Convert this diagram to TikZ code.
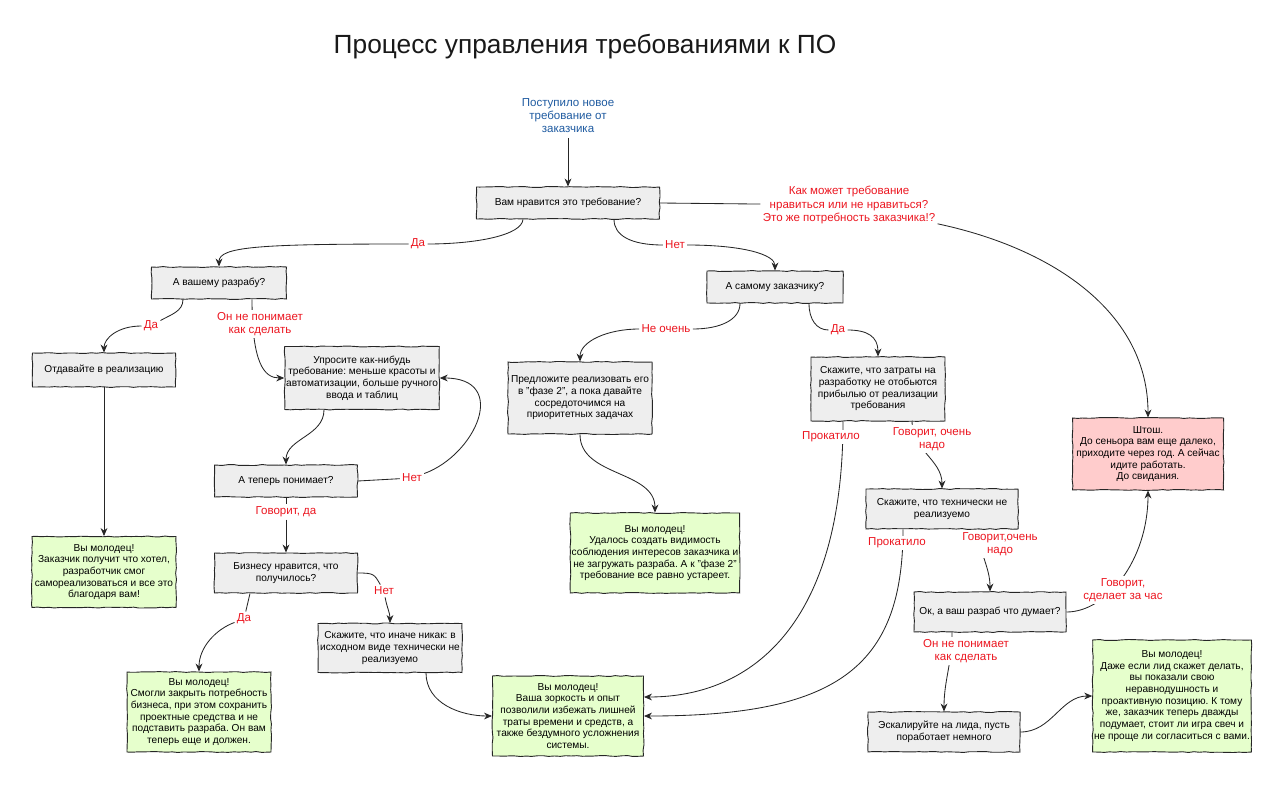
\documentclass[tikz,border=0pt]{standalone}
\usepackage{fontspec}
\setmainfont{Liberation Sans}
\usepackage{tikz}
\usetikzlibrary{arrows.meta}
\usetikzlibrary{positioning,decorations.pathmorphing}
\definecolor{qgray}{RGB}{238,238,238}
\definecolor{okgreen}{RGB}{230,255,204}
\definecolor{nopink}{RGB}{255,204,204}
\definecolor{lblred}{RGB}{236,22,32}
\definecolor{startblue}{RGB}{30,90,160}
\tikzset{
    sketch/.style={
        draw=black!85,
        line width=0.65pt,
        decorate,
        decoration={random steps, segment length=4pt, amplitude=0.35pt},
        align=center,
        inner sep=1pt,
        text=black,
        font=\fontsize{7.2}{8.3}\selectfont
    },
    qbox/.style={sketch, fill=qgray},
    okbox/.style={sketch, fill=okgreen},
    nobox/.style={sketch, fill=nopink},
    wh/.style 2 args={minimum width=#1cm, minimum height=#2cm},
    lbl/.style={
        text=lblred,
        fill=white,
        align=center,
        inner sep=1.5pt,
        font=\fontsize{8.2}{9.4}\selectfont
    },
    flow/.style={
        draw=black!85,
        line width=0.6pt,
        -{Stealth[length=2mm, width=1.7mm]}
    }
}
\pgfmathsetseed{7}
\frenchspacing

\begin{document}
\begin{tikzpicture}[x={(0.025cm,0)}, y={(0,0.025cm)}]
    \useasboundingbox (0,0) rectangle (1280,-788);

    % Title
    \node[font=\fontsize{18.7}{22}\selectfont, text=black!90] (title) at (585,-47) {Процесс управления требованиями к ПО};

    % Vertices
    \node[text=startblue, align=center, font=\fontsize{8.2}{9.2}\selectfont] (start) at (568,-116) {Поступило новое\\требование от\\заказчика};
    \node[qbox, wh={4.575}{0.8}] (likeIt) at (568,-203) {Вам нравится это требование?};
    \node[qbox, wh={3.375}{0.8}] (dev) at (219,-283) {А вашему разрабу?};
    \node[qbox, wh={3.4}{0.8}] (client) at (775,-287) {А самому заказчику?};
    \node[qbox, wh={3.575}{0.85}] (impl) at (104,-370) {Отдавайте в реализацию};
    \node[qbox, wh={3.75}{1.575}] (simplify) at (362,-378) {Упросите как-нибудь\\требование: меньше красоты и\\автоматизации, больше ручного\\ввода и таблиц};
    \node[qbox, wh={3.575}{0.8}] (getsNow) at (286,-481) {А теперь понимает?};
    \node[okbox, wh={3.6}{1.775}] (ok1) at (104,-572) {Вы молодец!\\Заказчик получит что хотел,\\разработчик смог\\самореализоваться и все это\\благодаря вам!};
    \node[qbox, wh={3.575}{1.0}] (bizLikes) at (286,-573) {Бизнесу нравится, что\\получилось?};
    \node[okbox, wh={3.6}{2.0}] (ok2) at (199,-712) {Вы молодец!\\Смогли закрыть потребность\\бизнеса, при этом сохранить\\проектные средства и не\\подставить разраба. Он вам\\теперь еще и должен.};
    \node[qbox, wh={3.6}{1.225}] (noWay) at (390,-648) {Скажите, что иначе никак: в\\исходном виде технически не\\реализуемо};
    \node[qbox, wh={3.6}{1.8}] (phase2) at (580,-398) {Предложите реализовать его\\в "фазе 2", а пока давайте\\сосредоточимся на\\приоритетных задачах};
    \node[okbox, wh={4.175}{2.0}] (ok3) at (655,-553) {Вы молодец!\\Удалось создать видимость\\соблюдения интересов заказчика и\\не загружать разраба. А к "фазе 2"\\требование все равно устареет.};
    \node[qbox, wh={3.35}{1.6}] (costs) at (878,-389) {Скажите, что затраты на\\разработку не отобьются\\прибылью от реализации\\требования};
    \node[qbox, wh={3.8}{1.0}] (techNo) at (942,-509) {Скажите, что технически не\\реализуемо};
    \node[qbox, wh={3.8}{1.0}] (devThinks) at (990,-612) {Ок, а ваш разраб что думает?};
    \node[qbox, wh={3.8}{1.0}] (escalate) at (944,-732) {Эскалируйте на лида, пусть\\поработает немного};
    \node[okbox, wh={3.8}{2.8}] (ok4) at (1172,-696) {Вы молодец!\\Даже если лид скажет делать,\\вы показали свою\\неравнодушность и\\проактивную позицию. К тому\\же, заказчик теперь дважды\\подумает, стоит ли игра свеч и\\не проще ли согласиться с вами.};
    \node[okbox, wh={3.775}{2.0}] (ok5) at (568,-716) {Вы молодец!\\Ваша зоркость и опыт\\позволили избежать лишней\\траты времени и средств, а\\также бездумного усложнения\\системы.};
    \node[nobox, wh={3.775}{1.8}] (nope) at (1148,-454) {Штош.\\До сеньора вам еще далеко,\\приходите через год. А сейчас\\идите работать.\\До свидания.};

    % Labels on bends
    \node[lbl] (yes1) at (418,-244) {Да};
    \node[lbl] (no1) at (675,-245) {Нет};
    \node[lbl] (why) at (849,-205) {Как может требование\\нравиться или не нравиться?\\Это же потребность заказчика!?};
    \node[lbl] (yes2) at (151,-326) {Да};
    \node[lbl] (no2) at (412,-478) {Нет};
    \node[lbl] (says1) at (286,-512) {Говорит, да};
    \node[lbl] (yes3) at (244,-619) {Да};
    \node[lbl] (no3) at (384,-591) {Нет};
    \node[lbl] (notReally) at (666,-329) {Не очень};
    \node[lbl] (yes4) at (838,-330) {Да};

    % Edges
    \draw[flow] (start) -- (likeIt);
    \draw[flow] ([xshift=-1.125cm]likeIt.south) to[out=-95, in=0, out distance=0.4cm, in distance=1.2cm] (yes1)
        to[out=180, in=90, out distance=3.7cm, in distance=0.5cm] (dev.north);
    \draw[flow] ([xshift=1.15cm]likeIt.south) to[out=-90, in=180, out distance=0.4cm, in distance=0.8cm] (no1)
        to[out=0, in=90, out distance=1.4cm, in distance=0.4cm] (client.north);
    \draw[flow] (likeIt.east) -- (why) to[out=-12, in=90, out distance=3cm, in distance=2.6cm] (nope.north);
    \draw[flow] ([xshift=-0.9cm]dev.south) to[out=-90, in=30, out distance=0.3cm, in distance=0.3cm] (yes2)
        to[out=180, in=90, out distance=0.6cm, in distance=0.35cm] (impl.north);
    \draw[flow] ([xshift=0.825cm]dev.south) to[out=-90, in=180, out distance=1.6cm, in distance=0.5cm] (simplify.west);
    \draw[flow] (impl) -- (ok1);
    \draw[flow] ([xshift=-0.95cm]simplify.south) to[out=-90, in=90] (getsNow.north);
    \draw[flow] (getsNow.east) -- (no2) to[out=20, in=0, out distance=1.375cm, in distance=1.75cm] (simplify.east);
    \draw[flow] (getsNow) -- (says1) -- (bizLikes);
    \draw[flow] ([xshift=-0.9cm]bizLikes.south) -- (yes3)
        to[out=-160, in=90, out distance=0.5cm, in distance=0.6cm] (ok2.north);
    \draw[flow] (bizLikes.east) to[out=0, in=120, out distance=0.4cm, in distance=0.3cm] (no3)
        to[out=-80, in=90] (noWay.north);
    \draw[flow] ([xshift=0.9cm]noWay.south) to[out=-90, in=180] (ok5.west);
    \draw[flow] ([xshift=-0.875cm]client.south) to[out=-90, in=0, out distance=0.4cm, in distance=0.7cm] (notReally)
        to[out=180, in=90, out distance=0.8cm, in distance=0.5cm] (phase2.north);
    \draw[flow] ([xshift=0.85cm]client.south) to[out=-90, in=180, out distance=0.4cm, in distance=0.3cm] (yes4)
        to[out=0, in=90, out distance=0.5cm, in distance=0.5cm] (costs.north);
    \draw[flow] (phase2.south) to[out=-90, in=90] (ok3.north);
    \draw[flow] ([xshift=-0.875cm]costs.south) to[out=-90, in=0, out distance=5cm, in distance=2.75cm] ([yshift=0.475cm]ok5.east);
    \draw[flow] ([xshift=0.85cm]costs.south) to[out=-90, in=90] (techNo.north);
    \draw[flow] ([xshift=-0.975cm]techNo.south) to[out=-90, in=0, out distance=3.5cm, in distance=4.75cm] (ok5.east);
    \draw[flow] ([xshift=0.925cm]techNo.south) to[out=-90, in=90] (devThinks.north);
    \draw[flow] (devThinks.east) to[out=0, in=-90, out distance=1cm, in distance=1.75cm] (nope.south);
    \draw[flow] ([xshift=-0.95cm]devThinks.south) to[out=-90, in=90] (escalate.north);
    \draw[flow] (escalate.east) to[out=0, in=180] (ok4.west);

    % Labels on lines
    \node[lbl] (dunno1) at (260,-324) {Он не понимает\\как сделать};
    \node[lbl] (worked1) at (831,-437) {Прокатило};
    \node[lbl] (need1) at (932,-439) {Говорит, очень\\надо};
    \node[lbl] (worked2) at (897,-543) {Прокатило};
    \node[lbl] (need2) at (1000,-544) {Говорит,очень\\надо};
    \node[lbl] (hour) at (1123,-590) {Говорит,\\сделает за час};
    \node[lbl] (dunno2) at (966,-651) {Он не понимает\\как сделать};
\end{tikzpicture}
\end{document}
